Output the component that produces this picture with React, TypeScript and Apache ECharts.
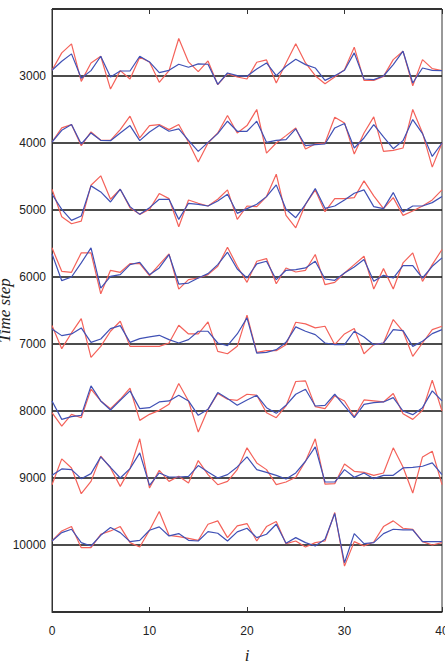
import React, { useEffect, useRef } from "react";
import * as echarts from "echarts";

// Baselines (time steps) of the eight stacked traces
const baseSteps = [3000, 4000, 5000, 6000, 7000, 8000, 9000, 10000];
const xIndex = Array.from({ length: 41 }, (_, i) => i);
const yTickLabels = ["3000", "4000", "5000", "6000", "7000", "8000", "9000", "10000"];

// Offsets (upward, in time-step units) for each trace
const red3000 = [85,345,480,-80,195,295,-195,80,-45,280,210,-95,80,560,210,65,225,-130,35,-15,-45,205,240,-105,195,480,195,5,-115,-15,95,430,-65,-65,-5,245,370,-145,245,110,80];
const blue3000 = [85,220,330,-35,80,295,-15,75,75,295,210,50,85,175,130,180,175,-125,45,5,-5,105,195,5,145,250,170,120,-65,5,85,345,-45,-55,0,170,370,-105,120,85,80];

const red4000 = [15,225,275,-40,165,40,40,200,400,75,260,275,200,275,10,-285,0,150,410,150,260,500,-150,0,110,225,-90,-15,0,385,300,-165,150,390,-125,-110,-75,500,150,-360,0];
const blue4000 = [15,190,275,-15,150,40,35,150,260,35,165,260,175,210,40,-125,10,140,325,175,175,325,10,40,50,210,-40,-25,-15,225,290,-75,75,275,90,-85,35,350,140,-200,0];

const red5000 = [310,-100,-205,-165,370,510,160,310,35,-65,10,245,170,-250,150,100,60,160,300,-140,60,50,200,535,-80,-265,85,300,-25,170,170,185,435,210,20,185,-80,-15,60,150,300];
const blue5000 = [235,10,-155,-90,360,270,120,310,50,-65,35,160,160,-140,100,85,60,135,235,-50,20,85,200,375,10,-115,85,320,25,60,150,250,300,50,20,260,-30,60,60,110,200];

const red6000 = [435,85,70,360,360,-250,100,70,200,200,20,185,345,-180,-40,-15,35,160,445,160,-80,235,275,-100,135,75,100,335,-115,-80,60,185,310,-180,125,-180,210,360,-65,185,410];
const blue6000 = [345,-55,0,210,435,-165,10,35,185,220,35,135,335,-105,-90,-15,50,185,370,120,-15,195,235,-40,100,110,135,235,-30,-50,60,150,260,-65,25,-15,170,170,-15,160,285];

const red7000 = [275,-70,165,380,-200,-35,190,340,-35,-35,-35,-35,15,280,150,150,330,-110,-145,-35,430,-125,-100,-100,-10,325,300,240,265,-10,150,230,-145,-10,15,365,190,-185,15,215,265];
const blue7000 = [225,125,150,240,25,75,230,275,25,80,105,130,65,15,65,190,190,15,-25,150,390,-135,-125,-85,25,255,190,140,15,-10,-10,190,105,-10,15,215,200,-35,40,155,215];

const red8000 = [-25,-225,-50,-100,325,150,35,175,340,-140,-50,10,100,410,150,-315,25,260,175,160,250,235,-25,-100,75,440,450,65,35,225,150,-85,165,150,135,260,-40,-125,10,460,0];
const blue8000 = [150,-125,-85,-65,375,150,15,160,300,35,50,135,150,235,150,-65,25,275,185,85,165,235,50,-35,85,250,325,75,85,250,75,-100,100,125,135,200,0,-55,50,300,150];

const red9000 = [-100,285,150,-235,-50,325,150,-125,140,585,-150,115,-50,25,-75,260,50,-100,-50,125,450,225,125,-100,-60,10,250,585,-90,-85,210,100,85,40,75,450,165,-225,315,400,-100];
const blue9000 = [40,135,125,-10,65,315,160,0,140,375,-110,75,15,15,25,185,90,0,50,165,315,125,85,40,-15,75,250,465,-60,-60,125,10,75,-10,40,40,150,160,175,225,50];

const red10000 = [60,210,275,-40,-40,160,210,275,35,-30,220,500,145,125,100,70,310,360,110,285,320,60,275,350,20,60,-30,35,60,485,-315,50,-15,45,275,360,250,235,50,0,35];
const blue10000 = [60,185,235,35,-15,145,260,185,50,70,220,270,135,170,70,60,200,175,60,195,250,110,160,310,25,110,35,-15,85,470,-265,170,20,35,170,235,225,225,50,50,50];

const redTraces = [red3000, red4000, red5000, red6000, red7000, red8000, red9000, red10000];
const blueTraces = [blue3000, blue4000, blue5000, blue6000, blue7000, blue8000, blue9000, blue10000];

const RED = "#f4625a";
const BLUE = "#4051b5";

function toSeries(traces: number[][], color: string, z: number) {
  return traces.map((offs, k) => ({
    type: "line",
    name: color === RED ? "red" : "blue",
    data: xIndex.map((x) => [x, baseSteps[k] - offs[x]]),
    showSymbol: false,
    symbol: "none",
    z,
    lineStyle: { color, width: 1.2 },
    itemStyle: { color },
  }));
}

export default function App() {
  const ref = useRef<HTMLDivElement>(null);
  useEffect(() => {
    if (!ref.current) return;
    const chart = echarts.init(ref.current, null, { renderer: "svg" });
    chart.setOption({
      animation: false,
      backgroundColor: "#ffffff",
      grid: {
        left: 52,
        right: 3,
        top: 9,
        bottom: 51,
        containLabel: false,
        outerBoundsMode: "none",
        show: true,
        borderColor: "#333",
        borderWidth: 1,
        backgroundColor: "transparent",
      },
      xAxis: [
        {
          type: "value",
          min: 0,
          max: 40,
          interval: 10,
          position: "bottom",
          name: "i",
          nameLocation: "middle",
          nameGap: 35,
          nameTextStyle: {
            fontFamily: "Liberation Serif",
            fontStyle: "italic",
            fontSize: 17,
            color: "#222",
          },
          axisLine: { show: true, lineStyle: { color: "#333", width: 1 } },
          axisTick: { show: true, inside: true, length: 5, lineStyle: { color: "#333" } },
          axisLabel: { fontFamily: "Liberation Sans", fontSize: 12, color: "#222", margin: 13 },
          splitLine: { show: false },
        },
        {
          type: "value",
          min: 0,
          max: 40,
          interval: 10,
          position: "top",
          axisLine: { show: true, lineStyle: { color: "#333", width: 1 } },
          axisTick: { show: true, inside: true, length: 5, lineStyle: { color: "#333" } },
          axisLabel: { show: false },
          splitLine: { show: false },
        },
      ],
      yAxis: {
        type: "value",
        inverse: true,
        min: 2000,
        max: 11000,
        interval: 1000,
        name: "Time step",
        nameLocation: "middle",
        nameGap: 39,
        nameMoveOverlap: false,
        nameTextStyle: {
          fontFamily: "Liberation Serif",
          fontStyle: "italic",
          fontSize: 17,
          color: "#222",
        },
        axisLine: { show: true, lineStyle: { color: "#333", width: 1 } },
        axisTick: { show: false },
        axisLabel: {
          fontFamily: "Liberation Sans",
          fontSize: 12,
          color: "#222",
          margin: 6,
          formatter: (v: number) => (yTickLabels.includes(String(v)) ? String(v) : ""),
        },
        splitLine: { show: true, lineStyle: { color: "#111", width: 1.5 } },
      },
      series: [...toSeries(redTraces, RED, 2), ...toSeries(blueTraces, BLUE, 3)],
    });
    return () => chart.dispose();
  }, []);
  return (
    <div
      ref={ref}
      style={{ position: "fixed", left: 0, top: 0, width: 445, height: 663, background: "#fff" }}
    />
  );
}
